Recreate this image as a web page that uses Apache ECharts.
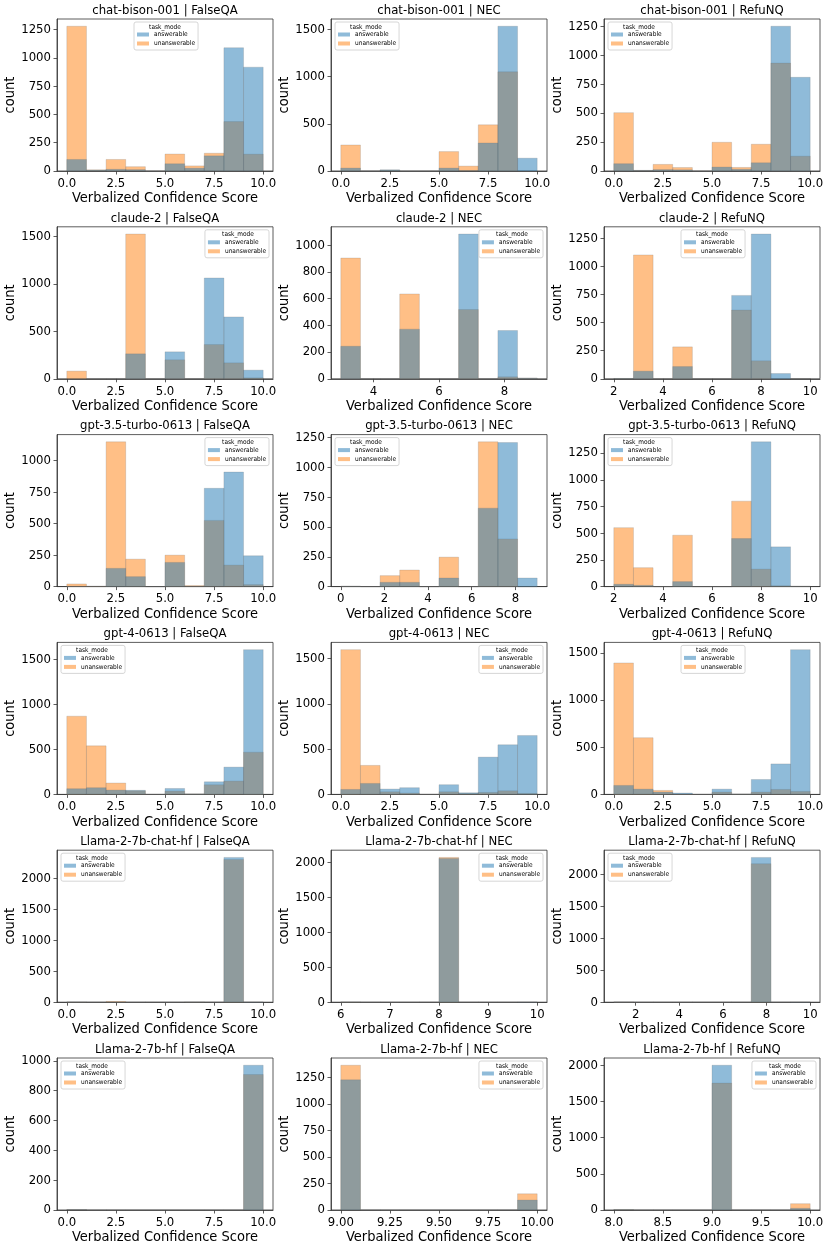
<!DOCTYPE html>
<html><head><meta charset="utf-8">
<script src="https://cdn.jsdelivr.net/npm/echarts@6/dist/echarts.min.js"></script>
<style>html,body{margin:0;padding:0;background:#fff}#c{width:830px;height:1246px}</style>
</head><body><div id="c"></div>
<script>
// ---------- DATA ----------
const models = ['chat-bison-001','claude-2','gpt-3.5-turbo-0613','gpt-4-0613','Llama-2-7b-chat-hf','Llama-2-7b-hf'];
const tasks = ['FalseQA','NEC','RefuNQ'];
// histogram range (10 equal bins) for each panel, row-major
const binRanges = [
  [0,10],[0,10],[0,10],
  [0,10],[3,9],[2,10],
  [0,10],[0,9],[2,10],
  [0,10],[0,10],[0,10],
  [0,10],[6,10],[1,10],
  [0,10],[9,10],[8,10]
];
const answerableCounts = [
  [102,8,15,12,0,64,25,134,1090,918],
  [31,0,12,0,0,31,5,297,1535,136],
  [63,5,12,10,0,34,15,71,1250,809],
  [0,0,0,263,0,284,0,1062,652,91],
  [244,0,0,372,0,0,1085,0,362,5],
  [3,68,0,109,0,0,742,1288,47,2],
  [3,2,145,79,0,192,3,781,910,245],
  [3,0,36,36,0,72,0,658,1208,72],
  [22,12,0,47,0,0,450,1355,372,3],
  [63,74,48,45,0,66,5,140,303,1607],
  [55,121,59,74,0,107,18,412,548,651],
  [95,56,25,14,0,56,4,158,323,1535],
  [3,0,3,0,0,0,3,0,2343,2],
  [2,0,0,0,0,2062,0,0,0,2],
  [3,0,0,0,0,0,0,2264,0,2],
  [3,0,0,0,0,0,0,0,0,971],
  [1228,0,0,0,0,0,0,0,0,94],
  [5,0,0,0,0,2000,0,0,0,23]
];
const unanswerableCounts = [
  [1280,10,102,38,0,150,45,157,437,149],
  [276,0,10,0,0,206,52,490,1052,0],
  [504,5,57,30,0,248,31,231,932,128],
  [81,0,0,1525,0,200,0,361,168,10],
  [905,0,0,636,0,0,519,0,15,5],
  [2,1102,0,284,0,0,612,160,0,2],
  [21,3,1150,218,0,250,8,526,171,16],
  [3,0,92,139,0,247,0,1214,400,0],
  [552,177,0,481,0,0,800,164,8,3],
  [868,539,126,40,0,37,5,107,148,469],
  [1599,320,29,15,0,29,10,22,40,11],
  [1394,601,42,5,0,25,4,25,53,32],
  [3,0,12,0,0,0,3,0,2311,0],
  [2,0,0,0,0,2076,0,0,0,0],
  [3,0,0,0,0,0,0,2166,0,0],
  [3,0,0,0,0,0,0,0,0,909],
  [1366,0,0,0,0,0,0,0,0,153],
  [5,0,0,0,0,1753,0,0,0,87]
];
const xTickLabels = [
  ['0.0','2.5','5.0','7.5','10.0'],['0.0','2.5','5.0','7.5','10.0'],['0.0','2.5','5.0','7.5','10.0'],
  ['0.0','2.5','5.0','7.5','10.0'],['4','6','8'],['2','4','6','8','10'],
  ['0.0','2.5','5.0','7.5','10.0'],['0','2','4','6','8'],['2','4','6','8','10'],
  ['0.0','2.5','5.0','7.5','10.0'],['0.0','2.5','5.0','7.5','10.0'],['0.0','2.5','5.0','7.5','10.0'],
  ['0.0','2.5','5.0','7.5','10.0'],['6','7','8','9','10'],['2','4','6','8','10'],
  ['0.0','2.5','5.0','7.5','10.0'],['9.00','9.25','9.50','9.75','10.00'],['8.0','8.5','9.0','9.5','10.0']
];
const yTickLabels = [
  ['0','250','500','750','1000','1250'],['0','500','1000','1500'],['0','250','500','750','1000','1250'],
  ['0','500','1000','1500'],['0','200','400','600','800','1000'],['0','250','500','750','1000','1250'],
  ['0','250','500','750','1000'],['0','250','500','750','1000','1250'],['0','250','500','750','1000','1250'],
  ['0','500','1000','1500'],['0','500','1000','1500'],['0','500','1000','1500'],
  ['0','500','1000','1500','2000'],['0','500','1000','1500','2000'],['0','500','1000','1500','2000'],
  ['0','200','400','600','800','1000'],['0','250','500','750','1000','1250'],['0','500','1000','1500','2000']
];
const hueNames = ['answerable','unanswerable'];

// ---------- LAYOUT / STYLE ----------
const legendPlacement = ['center','left','left','right','right','center','right','left','left',
                         'left','right','center','left','right','left','left','right','right'];
const W = 830;
const colLeft = [57, 331, 604], plotW = 216, plotH = 152, rowTop0 = 19, rowPitch = 207.8;
const FONT = "'DejaVu Sans Condensed', 'DejaVu Sans', sans-serif";
const BLUE = 'rgba(31,119,180,0.5)', ORANGE = 'rgba(255,127,14,0.5)';
const EDGE = 'rgba(110,110,110,0.35)';

function renderBar(color) {
  return function (params, api) {
    const x0 = api.value(0), x1 = api.value(1), v = api.value(2);
    const p0 = api.coord([x0, 0]), p1 = api.coord([x1, v]);
    return {
      type: 'rect',
      shape: { x: p0[0], y: p1[1], width: p1[0] - p0[0], height: p0[1] - p1[1] },
      style: { fill: color, stroke: EDGE, lineWidth: 0.6 }
    };
  };
}

const option = { animation: false, backgroundColor: '#fff', title: [], legend: [], grid: [], xAxis: [], yAxis: [], series: [] };
const legW = 62;

for (let i = 0; i < 18; i++) {
  const r = Math.floor(i / 3), c = i % 3;
  const left = colLeft[c], top = rowTop0 + r * rowPitch;
  option.grid.push({ left: left, top: top, width: plotW, height: plotH, show: true,
    borderColor: '#333', borderWidth: 0.8, backgroundColor: 'transparent', containLabel: false });

  const bmin = binRanges[i][0], bmax = binRanges[i][1], span = bmax - bmin;
  const xt = xTickLabels[i].map(Number);
  const yt = yTickLabels[i].map(Number);
  option.xAxis.push({
    type: 'value', gridIndex: i, min: bmin - 0.05 * span, max: bmax + 0.05 * span,
    name: 'Verbalized Confidence Score', nameLocation: 'middle', nameGap: 19,
    nameTextStyle: { fontFamily: FONT, fontSize: 14.5, color: '#000' },
    axisLine: { show: true, onZero: false, lineStyle: { color: '#333', width: 0.8 } },
    axisTick: { show: true, length: 3.5, customValues: xt, lineStyle: { color: '#333', width: 0.8 } },
    axisLabel: { show: true, customValues: xt, margin: 6, fontFamily: FONT, fontSize: 13, color: '#000',
      formatter: (v) => { const k = xt.findIndex(t => Math.abs(t - v) < 1e-9); return k >= 0 ? xTickLabels[i][k] : ''; } },
    splitLine: { show: false }
  });
  const maxCount = Math.max(...answerableCounts[i], ...unanswerableCounts[i]);
  option.yAxis.push({
    type: 'value', gridIndex: i, min: 0, max: maxCount * 1.05,
    name: 'count', nameLocation: 'middle', nameGap: 33,
    nameTextStyle: { fontFamily: FONT, fontSize: 14.5, color: '#000' },
    axisLine: { show: true, onZero: false, lineStyle: { color: '#333', width: 0.8 } },
    axisTick: { show: true, length: 3.5, customValues: yt, lineStyle: { color: '#333', width: 0.8 } },
    axisLabel: { show: true, customValues: yt, margin: 6, fontFamily: FONT, fontSize: 13, color: '#000',
      formatter: (v) => { const k = yt.findIndex(t => Math.abs(t - v) < 1e-6); return k >= 0 ? yTickLabels[i][k] : ''; } },
    splitLine: { show: false }
  });

  option.title.push({ text: models[r] + ' | ' + tasks[c], left: left + plotW / 2, top: top - 15, textAlign: 'center', padding: 0,
    textStyle: { fontFamily: FONT, fontSize: 13, fontWeight: 'normal', color: '#000' } });

  // legend
  const place = legendPlacement[i];
  let lx;
  if (place === 'left') lx = left + 4;
  else if (place === 'right') lx = left + plotW - 4 - legW;
  else lx = left + plotW / 2 - legW / 2;
  const leg = { show: true, orient: 'vertical', top: top + 3, data: hueNames.slice(), icon: 'rect',
    itemWidth: 12, itemHeight: 4, itemGap: 2, padding: [9, 3, 3, 3],
    borderColor: '#cccccc', borderWidth: 0.8, borderRadius: 2, backgroundColor: 'rgba(255,255,255,0.8)',
    selectedMode: false, textStyle: { fontFamily: FONT, fontSize: 6.5, color: '#000', lineHeight: 7 } };
  if (place === 'right') leg.right = W - (left + plotW) + 4; else leg.left = lx;
  option.legend.push(leg);
  option.title.push({ text: 'task_mode', left: lx + legW / 2, top: top + 4.5, textAlign: 'center', padding: 0,
    textStyle: { fontFamily: FONT, fontSize: 6.5, fontWeight: 'normal', color: '#000' } });

  const mk = (counts) => counts.map((v, k) => [bmin + k * span / 10, bmin + (k + 1) * span / 10, v]);
  option.series.push({ type: 'custom', name: 'unanswerable', coordinateSystem: 'cartesian2d', xAxisIndex: i, yAxisIndex: i,
    itemStyle: { color: ORANGE }, encode: { x: [0, 1], y: 2 }, data: mk(unanswerableCounts[i]), renderItem: renderBar(ORANGE) });
  option.series.push({ type: 'custom', name: 'answerable', coordinateSystem: 'cartesian2d', xAxisIndex: i, yAxisIndex: i,
    itemStyle: { color: BLUE }, encode: { x: [0, 1], y: 2 }, data: mk(answerableCounts[i]), renderItem: renderBar(BLUE) });
}

const chart = echarts.init(document.getElementById('c'), null, { renderer: 'canvas' });
chart.setOption(option);
</script>
</body></html>
